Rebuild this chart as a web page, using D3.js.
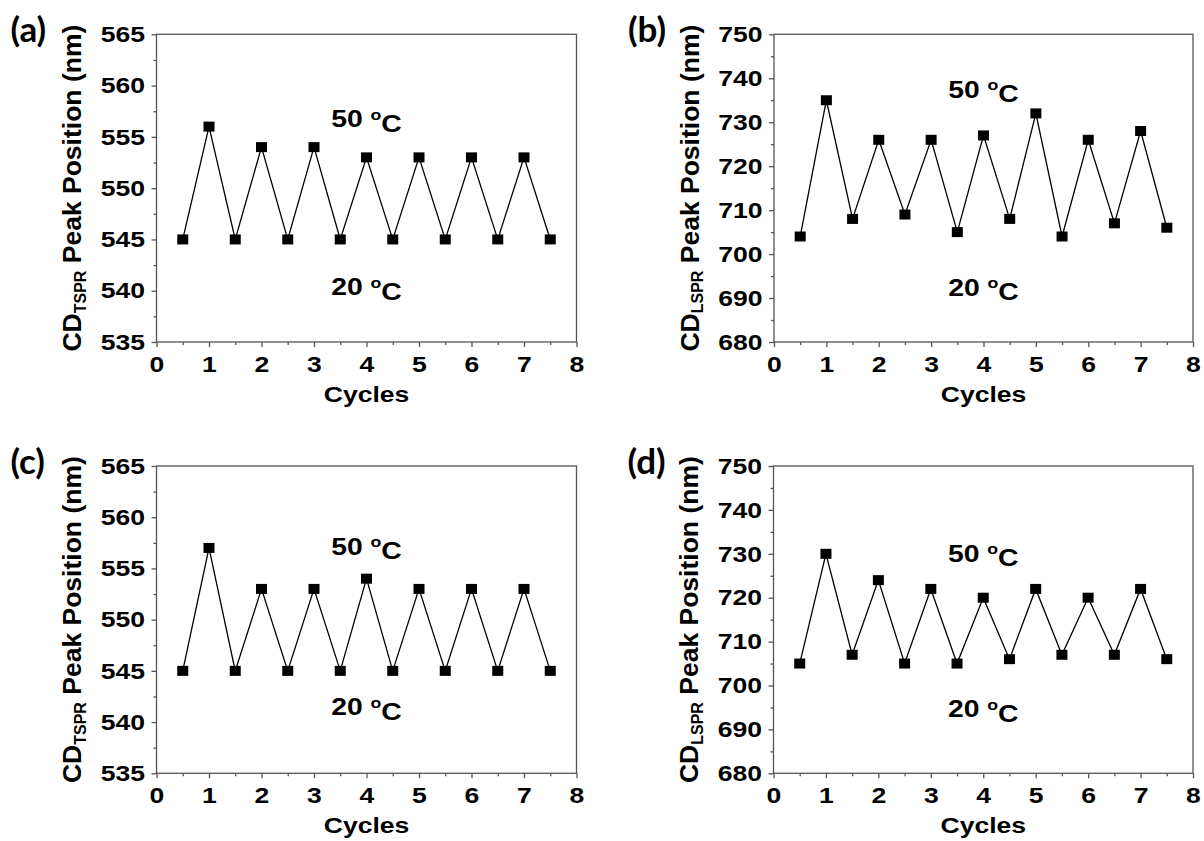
<!DOCTYPE html>
<html>
<head>
<meta charset="utf-8">
<script src="https://cdn.jsdelivr.net/npm/d3@7"></script>
<style>
  body { margin: 0; background: #fff; }
  svg text { font-family: "Liberation Sans", Arial, sans-serif; font-weight: bold; fill: #000; }
  .axis path { display: none; }
  .axis line { stroke: #555; stroke-width: 1.3; }
  .axis text { font-size: 22.5px; }
  .tag { font-family: Lato, "Open Sans", sans-serif !important; font-size: 35px; }
</style>
</head>
<body>
<svg id="chart" width="1204" height="841"></svg>
<script>
// values
var cycles = [0.5, 1, 1.5, 2, 2.5, 3, 3.5, 4, 4.5, 5, 5.5, 6, 6.5, 7, 7.5];
var tsprA = [545, 556, 545, 554, 545, 554, 545, 553, 545, 553, 545, 553, 545, 553, 545];
var lsprB = [704, 735, 708, 726, 709, 726, 705, 727, 708, 732, 704, 726, 707, 728, 706];
var tsprC = [545, 557, 545, 553, 545, 553, 545, 554, 545, 553, 545, 553, 545, 553, 545];
var lsprD = [705, 730, 707, 724, 705, 722, 705, 720, 706, 722, 707, 720, 707, 722, 706];

var xTicks = [0, 1, 2, 3, 4, 5, 6, 7, 8];
var xMinor = [0.5, 1.5, 2.5, 3.5, 4.5, 5.5, 6.5, 7.5];
var yTicksT = [535, 540, 545, 550, 555, 560, 565];
var yMinorT = [537.5, 542.5, 547.5, 552.5, 557.5, 562.5];
var yTicksL = [680, 690, 700, 710, 720, 730, 740, 750];
var yMinorL = [685, 695, 705, 715, 725, 735, 745];

var tags = ["(a)", "(b)", "(c)", "(d)"];
var subs = ["TSPR", "LSPR", "TSPR", "LSPR"];
var hotLabel = "50 ", coldLabel = "20 ";
// where the temperature notes sit, in data units
var hotAt = [556.8, 737.5, 557.2, 730.2];
var coldAt = [540.4, 692.5, 541.5, 694.7];

// the source figure's lettering is a little wider than plain Arial
var sx = 1.18;

var svg = d3.select("#chart");

var panels = [
  {vals: tsprA, ticks: yTicksT, minor: yMinorT, box: [156.5, 576.5, 34.3, 342]},
  {vals: lsprB, ticks: yTicksL, minor: yMinorL, box: [774, 1193, 34.3, 342]},
  {vals: tsprC, ticks: yTicksT, minor: yMinorT, box: [156.5, 576.5, 466, 773.3]},
  {vals: lsprD, ticks: yTicksL, minor: yMinorL, box: [773.5, 1193, 466, 773.3]}
];

panels.forEach(function(p, i) {
  var left = p.box[0], right = p.box[1], top = p.box[2], bottom = p.box[3];
  var x = d3.scaleLinear().domain([0, 8]).range([left, right]);
  var y = d3.scaleLinear().domain(d3.extent(p.ticks)).range([bottom, top]);
  var g = svg.append("g");

  // frame
  g.append("rect")
    .attr("x", left).attr("y", top)
    .attr("width", right - left).attr("height", bottom - top)
    .attr("fill", "none").attr("stroke", "#555").attr("stroke-width", 1.3);

  // x axis, major + minor
  var xa = g.append("g").attr("class", "axis")
    .attr("transform", "translate(0," + bottom + ")")
    .call(d3.axisBottom(x).tickValues(xTicks).tickSize(5).tickPadding(9).tickFormat(d3.format("d")));
  xa.selectAll(".tick text").attr("transform", "scale(" + sx + ",1)");
  g.append("g").attr("class", "axis")
    .attr("transform", "translate(0," + bottom + ")")
    .call(d3.axisBottom(x).tickValues(xMinor).tickSize(3).tickFormat(""));

  // y axis, major + minor
  var ya = g.append("g").attr("class", "axis")
    .attr("transform", "translate(" + left + ",0)")
    .call(d3.axisLeft(y).tickValues(p.ticks).tickSize(5).tickPadding(6).tickFormat(d3.format("d")));
  ya.selectAll(".tick text")
    .attr("x", -11.5 / sx)
    .attr("transform", "scale(" + sx + ",1)");
  g.append("g").attr("class", "axis")
    .attr("transform", "translate(" + left + ",0)")
    .call(d3.axisLeft(y).tickValues(p.minor).tickSize(3).tickFormat(""));

  var pts = cycles.map(function(c, k) { return [c, p.vals[k]]; });

  var line = d3.line()
    .x(function(d) { return x(d[0]); })
    .y(function(d) { return y(d[1]); });

  g.append("path")
    .datum(pts)
    .attr("fill", "none")
    .attr("stroke", "#000")
    .attr("stroke-width", 1.3)
    .attr("d", line);

  g.selectAll("rect.pt")
    .data(pts)
    .enter().append("rect")
    .attr("class", "pt")
    .attr("x", function(d) { return x(d[0]) - 5.5; })
    .attr("y", function(d) { return y(d[1]) - 5; })
    .attr("width", 11)
    .attr("height", 10)
    .attr("fill", "#000");

  // temperature notes
  var cx = (left + right) / 2;
  [[hotLabel, hotAt[i]], [coldLabel, coldAt[i]]].forEach(function(t) {
    var tx = g.append("text")
      .attr("transform", "translate(" + cx + "," + y(t[1]) + ") scale(" + sx + ",1)")
      .attr("dy", "0.36em")
      .attr("text-anchor", "middle")
      .style("font-size", "24px");
    tx.append("tspan").text(t[0]);
    tx.append("tspan").attr("dy", "-0.5em").style("font-size", "15px").text("o");
    tx.append("tspan").attr("dy", "0.5em").text("C");
  });

  // x title
  g.append("text")
    .attr("transform", "translate(" + cx + "," + (bottom + 60) + ") scale(" + sx + ",1)")
    .attr("text-anchor", "middle")
    .style("font-size", "22.5px")
    .text("Cycles");

  // y title
  var yt = g.append("text")
    .attr("transform", "translate(" + (left - 85) + "," + ((top + bottom) / 2) + ") rotate(-90)")
    .attr("text-anchor", "middle")
    .attr("dy", "0.36em")
    .style("font-size", "26.5px");
  yt.append("tspan").text("CD");
  yt.append("tspan").attr("dy", "0.3em").style("font-size", "16px").text(subs[i]);
  yt.append("tspan").attr("dy", "-0.18em").text(" Peak Position (nm)");

  // panel tag
  svg.append("text")
    .attr("class", "tag")
    .attr("x", left - 146).attr("y", top + 8)
    .text(tags[i]);
});
</script>
</body>
</html>
